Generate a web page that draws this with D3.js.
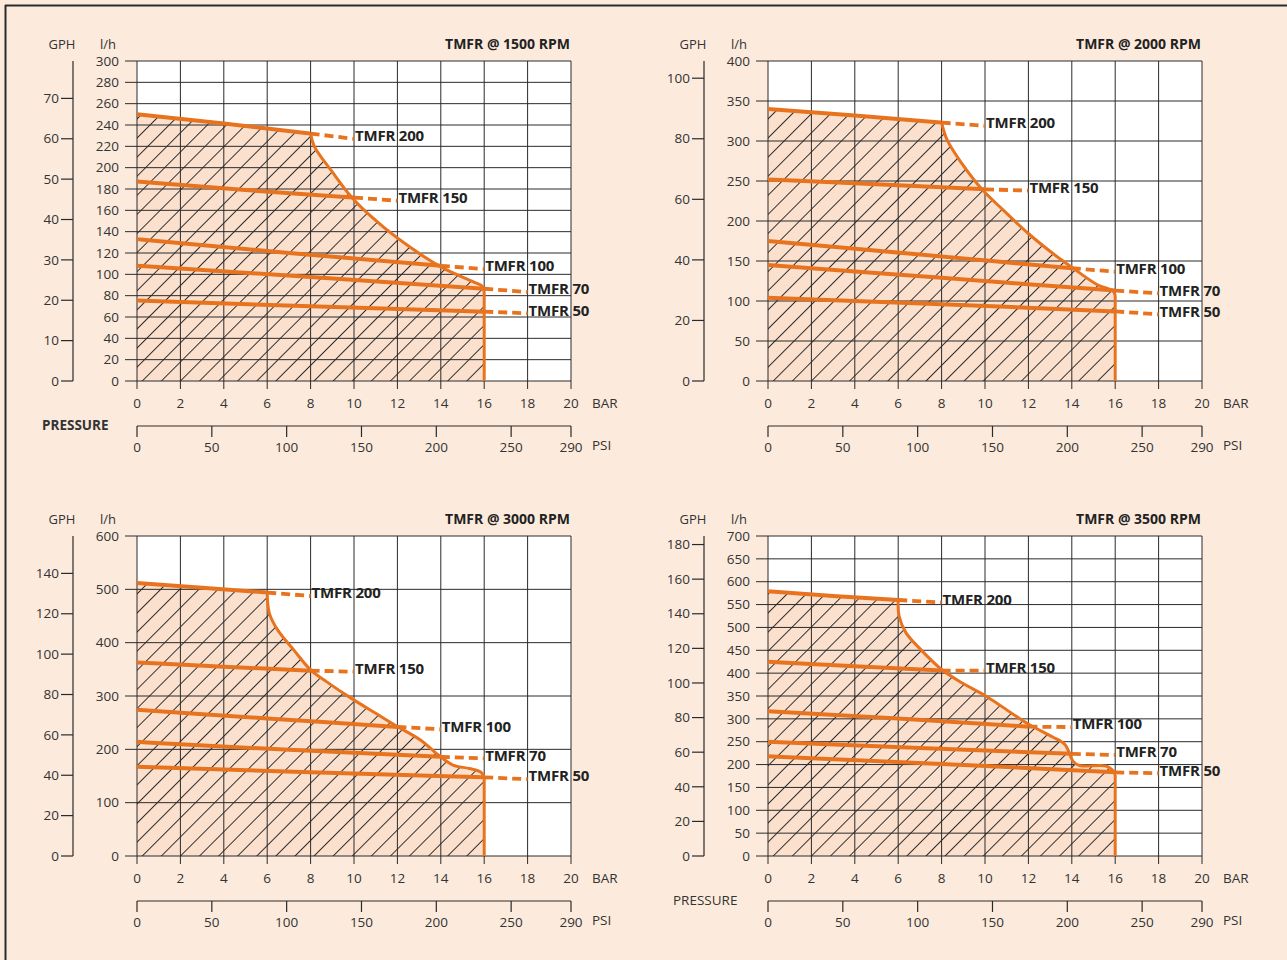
<!DOCTYPE html>
<html>
<head>
<meta charset="utf-8">
<script src="https://d3js.org/d3.v7.min.js"></script>
<style>
  body { margin: 0; background: #fcebdd; }
  svg { display: block; font-family: "Open Sans", "Noto Sans", sans-serif; }
</style>
</head>
<body>
<div id="chart"></div>
<script>
// tick labels
const barTicks = [0, 2, 4, 6, 8, 10, 12, 14, 16, 18, 20];
const psiTicks = [0, 50, 100, 150, 200, 250, 290];
const models = ["TMFR 200", "TMFR 150", "TMFR 100", "TMFR 70", "TMFR 50"];

// 1500 RPM (bar, l/h)
const lines1500 = [
  [[0, 250], [4, 241.5], [8, 232]],
  [[0, 187], [5, 179], [10, 172]],
  [[0, 133], [7, 120], [14, 108]],
  [[0, 108], [8, 97.5], [16, 86.5]],
  [[0, 75.5], [8, 70], [16, 65]]
];
const dash1500 = [
  [[8, 232], [10, 227]],
  [[10, 172], [12, 169]],
  [[14, 108], [16, 105]],
  [[16, 86.5], [18, 83.4]],
  [[16, 65], [18, 63.5]]
];
const limit1500 = [[8, 232], [8.17, 220], [9, 196], [9.86, 173], [10.8, 154], [12, 134], [14, 107], [15.5, 93], [15.9, 89], [16, 84], [16, 0]];

// 2000 RPM
const lines2000 = [
  [[0, 340], [4, 332], [8, 323]],
  [[0, 252], [5, 246], [10, 239.6]],
  [[0, 175], [7, 158], [14, 141]],
  [[0, 145], [8, 129], [16, 113]],
  [[0, 104], [8, 96], [16, 87]]
];
const dash2000 = [
  [[8, 323], [10, 319]],
  [[10, 239.6], [12, 238]],
  [[14, 141], [16, 136.6]],
  [[16, 113], [18, 109.6]],
  [[16, 87], [18, 83.3]]
];
const limit2000 = [[8, 323], [8.26, 301], [8.93, 272], [9.88, 239], [10.83, 214], [11.97, 185], [13.1, 160], [14.06, 141], [15.2, 120], [15.9, 112.5], [16, 107], [16, 0]];

// 3000 RPM
const lines3000 = [
  [[0, 512], [3, 503], [6, 494]],
  [[0, 363], [4, 355], [8, 347.5]],
  [[0, 274], [6, 258], [12, 242]],
  [[0, 214], [7, 199], [14, 186]],
  [[0, 167.5], [8, 157], [16, 147.5]]
];
const dash3000 = [
  [[6, 494], [8, 487.5]],
  [[8, 347.5], [10, 345.6]],
  [[12, 242], [14, 237.5]],
  [[14, 186], [16, 183]],
  [[16, 147.5], [18, 144]]
];
const limit3000 = [[6, 494], [6.1, 455], [6.48, 424], [7.23, 386], [8, 349], [8.73, 327], [9.86, 296], [11, 267.5], [12.03, 242], [13.06, 217.5], [13.9, 189], [14.56, 170.6], [15.32, 164], [15.85, 157], [16, 148], [16, 0]];

// 3500 RPM
const lines3500 = [
  [[0, 579], [3, 569], [6, 560]],
  [[0, 425], [4, 415], [8, 405.7]],
  [[0, 316.5], [6, 301], [12, 283]],
  [[0, 250], [7, 236.5], [14, 223.5]],
  [[0, 218], [8, 201.5], [16, 183]]
];
const dash3500 = [
  [[6, 560], [8, 554.5]],
  [[8, 405.7], [10, 405.7]],
  [[12, 283], [14, 282]],
  [[14, 223.5], [16, 221]],
  [[16, 183], [18, 181]]
];
const limit3500 = [[6, 560], [6.04, 525], [6.36, 488], [7.03, 452], [8, 408], [8.93, 379], [10.07, 349], [11.21, 313], [12.05, 287], [13.1, 261], [13.69, 243.5], [14.06, 207], [14.35, 198], [15.58, 197], [15.87, 188], [16, 178], [16, 0]];

const LPH_PER_GPH = 3.785;
const ORANGE = "#e8731f";

const svg = d3.select("#chart").append("svg")
    .attr("width", 1287)
    .attr("height", 960);

svg.append("rect").attr("width", 1287).attr("height", 960).attr("fill", "#fcebdd");

// frame (only top and left edges visible)
svg.append("line").attr("x1", 5).attr("x2", 1287).attr("y1", 5.5).attr("y2", 5.5)
    .attr("stroke", "#2b2b2b").attr("stroke-width", 2);
svg.append("line").attr("x1", 5.5).attr("x2", 5.5).attr("y1", 5).attr("y2", 960)
    .attr("stroke", "#2b2b2b").attr("stroke-width", 2);

const defs = svg.append("defs");
const pat = defs.append("pattern")
    .attr("id", "hatch")
    .attr("patternUnits", "userSpaceOnUse")
    .attr("width", 13.5).attr("height", 13.5)
    .attr("patternTransform", "rotate(45)");
pat.append("rect").attr("width", 13.5).attr("height", 13.5).attr("fill", "#fbe1cd");
pat.append("line").attr("x1", 0.5).attr("x2", 0.5).attr("y1", 0).attr("y2", 13.5)
    .attr("stroke", "#1a1a1a").attr("stroke-width", 0.9);

function drawPanel({ x0, y0, yMax, yStep, gphTicks, title, lines, dashes, limit, pressure, pressureBold }) {
    const w = 434, h = 320;
    const g = svg.append("g").attr("transform", `translate(${x0},${y0})`);
    const x = d3.scaleLinear().domain([0, 20]).range([0, w]);
    const y = d3.scaleLinear().domain([0, yMax]).range([h, 0]);
    const gph = d3.scaleLinear().domain([0, yMax / LPH_PER_GPH]).range([h, 0]);
    const psi = d3.scaleLinear().domain([0, 290]).range([0, w]);

    g.append("rect").attr("width", w).attr("height", h).attr("fill", "white");

    // hatched operating area
    const area = lines[0].concat(limit.slice(1)).concat([[0, 0]]);
    const poly = d3.line().x(d => x(d[0])).y(d => y(d[1])).curve(d3.curveLinear);
    g.append("path").attr("d", poly(area) + "Z").attr("fill", "url(#hatch)");

    // grid
    const yTicks = d3.range(0, yMax + 1, yStep);
    g.selectAll(".hgrid").data(yTicks).enter().append("line")
        .attr("x1", -12).attr("x2", w)
        .attr("y1", d => y(d)).attr("y2", d => y(d))
        .attr("stroke", "#2a2a2a").attr("stroke-width", 1);
    g.selectAll(".vgrid").data(barTicks).enter().append("line")
        .attr("x1", d => x(d)).attr("x2", d => x(d))
        .attr("y1", 0).attr("y2", h + 8)
        .attr("stroke", "#2a2a2a").attr("stroke-width", 1);

    // l/h labels
    g.selectAll(".ylab").data(yTicks).enter().append("text")
        .attr("x", -18).attr("y", d => y(d))
        .attr("dy", "0.35em").attr("text-anchor", "end")
        .attr("font-size", 13.5).attr("fill", "#333")
        .text(d => d);

    // GPH axis
    const gx = -64;
    g.append("line").attr("x1", gx).attr("x2", gx).attr("y1", 0).attr("y2", h)
        .attr("stroke", "#2a2a2a").attr("stroke-width", 1.2);
    g.selectAll(".gtick").data(gphTicks).enter().append("line")
        .attr("x1", gx - 12).attr("x2", gx)
        .attr("y1", d => gph(d)).attr("y2", d => gph(d))
        .attr("stroke", "#2a2a2a").attr("stroke-width", 1.2);
    g.selectAll(".glab").data(gphTicks).enter().append("text")
        .attr("x", gx - 14).attr("y", d => gph(d))
        .attr("dy", "0.35em").attr("text-anchor", "end")
        .attr("font-size", 13.5).attr("fill", "#333")
        .text(d => d);

    // headers
    g.append("text").attr("x", -75).attr("y", -17).attr("dy", "0.35em")
        .attr("text-anchor", "middle").attr("font-size", 13).attr("fill", "#333").text("GPH");
    g.append("text").attr("x", -29).attr("y", -17).attr("dy", "0.35em")
        .attr("text-anchor", "middle").attr("font-size", 13).attr("fill", "#333").text("l/h");
    g.append("text").attr("x", w - 1).attr("y", -17).attr("dy", "0.35em")
        .attr("text-anchor", "end").attr("font-size", 14).attr("font-weight", 700)
        .attr("fill", "#222").text(title);

    // bar axis labels
    g.selectAll(".xlab").data(barTicks).enter().append("text")
        .attr("x", d => x(d)).attr("y", h + 22).attr("dy", "0.35em")
        .attr("text-anchor", "middle").attr("font-size", 13.5).attr("fill", "#333")
        .text(d => d);
    g.append("text").attr("x", w + 21).attr("y", h + 22).attr("dy", "0.35em")
        .attr("font-size", 13.5).attr("fill", "#333").text("BAR");

    // psi axis
    const py = h + 45;
    g.append("line").attr("x1", 0).attr("x2", w).attr("y1", py).attr("y2", py)
        .attr("stroke", "#2a2a2a").attr("stroke-width", 1.2);
    g.selectAll(".ptick").data(psiTicks).enter().append("line")
        .attr("x1", d => psi(d)).attr("x2", d => psi(d))
        .attr("y1", py).attr("y2", py + 11)
        .attr("stroke", "#2a2a2a").attr("stroke-width", 1.2);
    g.selectAll(".plab").data(psiTicks).enter().append("text")
        .attr("x", d => psi(d)).attr("y", py + 21).attr("dy", "0.35em")
        .attr("text-anchor", "middle").attr("font-size", 13.5).attr("fill", "#333")
        .text(d => d);
    g.append("text").attr("x", w + 21).attr("y", py + 19).attr("dy", "0.35em")
        .attr("font-size", 13.5).attr("fill", "#333").text("PSI");

    if (pressure) {
        g.append("text").attr("x", -95).attr("y", py - 1).attr("dy", "0.35em")
            .attr("font-size", 13.5).attr("font-weight", pressureBold ? 700 : 400)
            .attr("fill", "#333").text("PRESSURE");
    }

    // curves
    const curve = d3.line().x(d => x(d[0])).y(d => y(d[1])).curve(d3.curveMonotoneX);
    dashes.forEach(d => {
        g.append("path").attr("d", poly(d)).attr("fill", "none")
            .attr("stroke", ORANGE).attr("stroke-width", 3.8)
            .attr("stroke-dasharray", "9,5");
    });
    // pressure limit: smooth bend, then a straight drop to zero
    const bend = limit.slice(0, -1);
    const drop = limit.slice(-2);
    g.append("path").attr("d", d3.line().x(d => x(d[0])).y(d => y(d[1]))
            .curve(d3.curveCatmullRom.alpha(0.5))(bend))
        .attr("fill", "none").attr("stroke", ORANGE).attr("stroke-width", 3)
        .attr("stroke-linejoin", "round");
    g.append("path").attr("d", poly(drop))
        .attr("fill", "none").attr("stroke", ORANGE).attr("stroke-width", 3);
    lines.forEach(d => {
        g.append("path").attr("d", curve(d)).attr("fill", "none")
            .attr("stroke", ORANGE).attr("stroke-width", 4);
    });

    // model labels at dash ends
    dashes.forEach((d, i) => {
        const end = d[d.length - 1];
        g.append("text")
            .attr("x", x(end[0]) + 1).attr("y", y(end[1]) - 3).attr("dy", "0.35em")
            .attr("font-size", 15).attr("font-weight", 700).attr("fill", "#222")
            .attr("letter-spacing", "-0.2")
            .text(models[i]);
    });
}

drawPanel({ x0: 137, y0: 61, yMax: 300, yStep: 20, gphTicks: [0, 10, 20, 30, 40, 50, 60, 70],
    title: "TMFR @ 1500 RPM", lines: lines1500, dashes: dash1500, limit: limit1500, pressure: true, pressureBold: true });
drawPanel({ x0: 768, y0: 61, yMax: 400, yStep: 50, gphTicks: [0, 20, 40, 60, 80, 100],
    title: "TMFR @ 2000 RPM", lines: lines2000, dashes: dash2000, limit: limit2000 });
drawPanel({ x0: 137, y0: 536, yMax: 600, yStep: 100, gphTicks: [0, 20, 40, 60, 80, 100, 120, 140],
    title: "TMFR @ 3000 RPM", lines: lines3000, dashes: dash3000, limit: limit3000 });
drawPanel({ x0: 768, y0: 536, yMax: 700, yStep: 50, gphTicks: [0, 20, 40, 60, 80, 100, 120, 140, 160, 180],
    title: "TMFR @ 3500 RPM", lines: lines3500, dashes: dash3500, limit: limit3500, pressure: true, pressureBold: false });
</script>
</body>
</html>
